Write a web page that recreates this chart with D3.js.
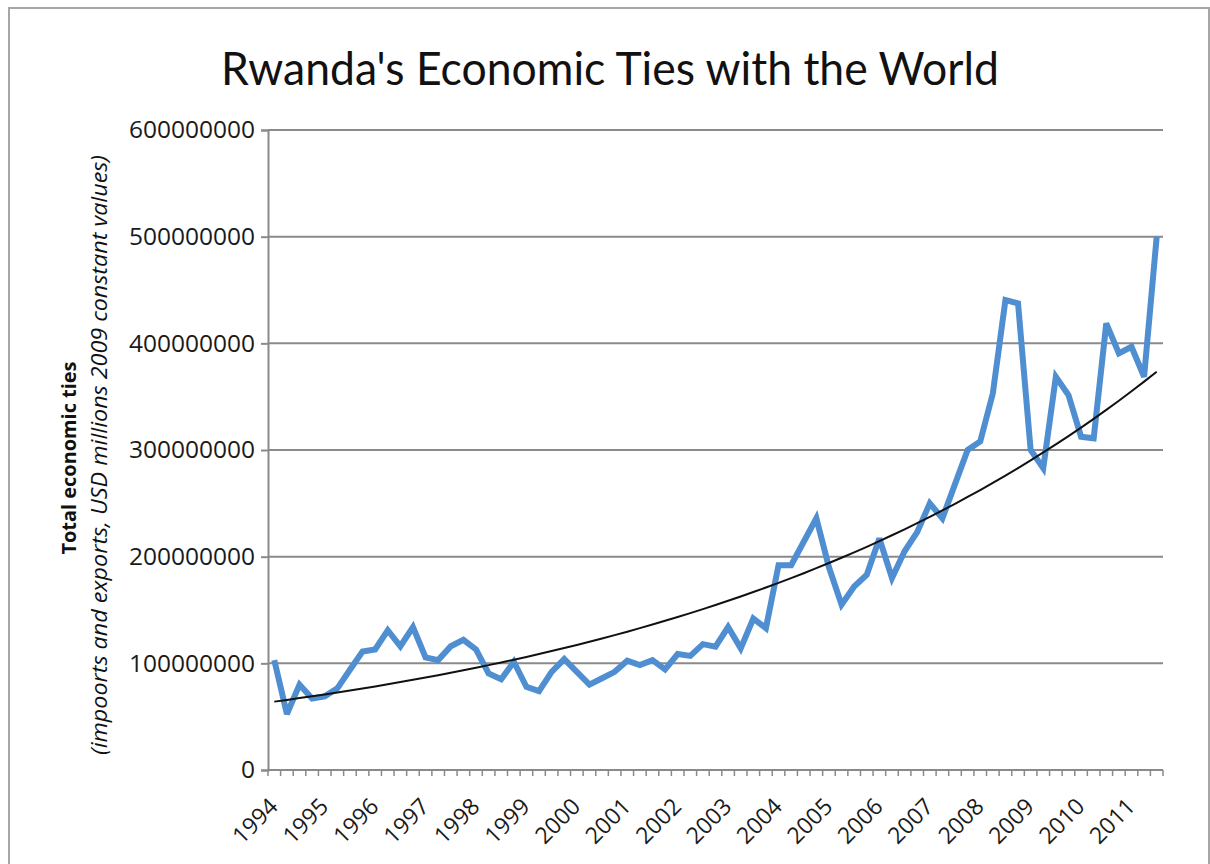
<!DOCTYPE html>
<html>
<head>
<meta charset="utf-8">
<script src="https://cdn.jsdelivr.net/npm/d3@7"></script>
<style>
  html, body { margin: 0; padding: 0; background: #fff; }
  svg { display: block; }
</style>
</head>
<body>
<svg id="chart" width="1210" height="864"></svg>
<script>
// Quarterly totals of imports + exports, 1994 Q1 – 2011 Q3 (USD, millions shown as full units)
const years = ["1994","1995","1996","1997","1998","1999","2000","2001","2002",
               "2003","2004","2005","2006","2007","2008","2009","2010","2011"];
const quarterNames = ["Q1","Q2","Q3","Q4"];
const quarters = [];
years.forEach(yr => quarterNames.forEach(q => quarters.push(yr + " " + q)));
quarters.length = 71; // series ends at 2011 Q3

const valuesMillions = [
  103, 52.5, 80, 67, 69, 76.5, 94, 111, 113, 131,
  116, 134, 105.6, 103, 116, 122, 113, 90.6, 85, 101.5,
  78, 74, 92, 104, 92, 80, 86, 92, 102.5, 98.4,
  103, 94.4, 108.7, 107, 118, 115.6, 134, 114, 142, 133,
  192, 192, 214, 236, 190, 155, 172, 183, 217, 180,
  205, 223, 250, 236, 268, 300, 308, 353, 440.6, 437.5,
  300, 283, 368.7, 351.6, 312.5, 311, 418.7, 390.6, 396.8, 368.7,
  500
];
const values = valuesMillions.map(v => v * 1e6);
const yTicks = [0, 1e8, 2e8, 3e8, 4e8, 5e8, 6e8];

const title = "Rwanda's Economic Ties with the World";
const yTitle = "Total economic ties";
const ySubtitle = "(impoorts and exports, USD millions 2009 constant values)";

const svg = d3.select("#chart");
const plotLeft = 268, plotRight = 1163, plotTop = 130, plotBottom = 770;
const gridColor = "#8a8a8a";
const tickFont = "'Open Sans', 'DejaVu Sans', sans-serif";

// outer chart frame
svg.append("rect")
  .attr("x", 9).attr("y", 8).attr("width", 1200).attr("height", 880)
  .attr("fill", "#fff").attr("stroke", "#a6a6a6").attr("stroke-width", 2);

const x = d3.scaleBand().domain(quarters).range([plotLeft, plotRight]).paddingInner(0).paddingOuter(0);
const y = d3.scaleLinear().domain([0, 6e8]).range([plotBottom, plotTop]);
const cx = q => x(q) + x.bandwidth() / 2;

// horizontal gridlines
svg.append("g").selectAll("line").data(yTicks.filter(t => t > 0)).join("line")
  .attr("x1", plotLeft).attr("x2", plotRight)
  .attr("y1", d => y(d)).attr("y2", d => y(d))
  .attr("stroke", gridColor).attr("stroke-width", 2);

// y axis
const yAxis = svg.append("g").attr("transform", `translate(${plotLeft},0)`)
  .call(d3.axisLeft(y).tickValues(yTicks).tickFormat(d3.format("d")).tickSize(7).tickPadding(6));
yAxis.select(".domain").attr("stroke", gridColor).attr("stroke-width", 2);
yAxis.selectAll(".tick line").attr("stroke", gridColor).attr("stroke-width", 2);
yAxis.selectAll(".tick text")
  .attr("font-family", tickFont).attr("font-size", 24.5).attr("fill", "#1a1a1a");

// x axis with a tick at every quarter boundary
const boundaries = quarters.map(q => x(q)).concat([plotRight]);
svg.append("line")
  .attr("x1", plotLeft - 1).attr("x2", plotRight).attr("y1", plotBottom).attr("y2", plotBottom)
  .attr("stroke", gridColor).attr("stroke-width", 2);
svg.append("g").selectAll("line").data(boundaries).join("line")
  .attr("x1", d => d).attr("x2", d => d)
  .attr("y1", plotBottom).attr("y2", plotBottom + 6)
  .attr("stroke", gridColor).attr("stroke-width", 1.5);

// year labels on the first quarter of each year
svg.append("g").selectAll("text").data(years).join("text")
  .attr("transform", d => `translate(${cx(d + " Q1") + 5},${plotBottom + 38}) rotate(-45)`)
  .attr("text-anchor", "end")
  .attr("font-family", tickFont).attr("font-size", 23).attr("fill", "#1a1a1a")
  .text(d => d);

// exponential trend fitted to the series (least squares on ln values)
const n = values.length;
const xs = d3.range(n);
const ls = values.map(v => Math.log(v));
const mx = d3.mean(xs), ml = d3.mean(ls);
const b = d3.sum(xs, i => (i - mx) * (ls[i] - ml)) / d3.sum(xs, i => (i - mx) * (i - mx));
const a = ml - b * mx;
const trend = xs.map(i => Math.exp(a + b * i));

// data line
const line = d3.line().x((d, i) => cx(quarters[i])).y(d => y(d));
svg.append("path").datum(values)
  .attr("d", line)
  .attr("fill", "none").attr("stroke", "#4f8ed0").attr("stroke-width", 6)
  .attr("stroke-linejoin", "miter").attr("stroke-miterlimit", 3);

svg.append("path").datum(trend)
  .attr("d", d3.line().curve(d3.curveMonotoneX).x((d, i) => cx(quarters[i])).y(d => y(d)))
  .attr("fill", "none").attr("stroke", "#111").attr("stroke-width", 2);

// title
svg.append("text")
  .attr("x", 610).attr("y", 85).attr("text-anchor", "middle")
  .attr("font-family", "Lato, 'Open Sans', sans-serif").attr("font-size", 47)
  .attr("textLength", 778).attr("lengthAdjust", "spacingAndGlyphs")
  .attr("fill", "#111").text(title);

// y axis titles
svg.append("text")
  .attr("transform", "translate(76,458) rotate(-90)")
  .attr("text-anchor", "middle")
  .attr("font-family", tickFont).attr("font-weight", "bold").attr("font-size", 20)
  .attr("textLength", 193).attr("lengthAdjust", "spacingAndGlyphs")
  .attr("fill", "#111").text(yTitle);
svg.append("text")
  .attr("transform", "translate(107,455) rotate(-90)")
  .attr("text-anchor", "middle")
  .attr("font-family", tickFont).attr("font-style", "italic").attr("font-size", 21)
  .attr("textLength", 600).attr("lengthAdjust", "spacingAndGlyphs")
  .attr("fill", "#111").text(ySubtitle);
</script>
</body>
</html>
